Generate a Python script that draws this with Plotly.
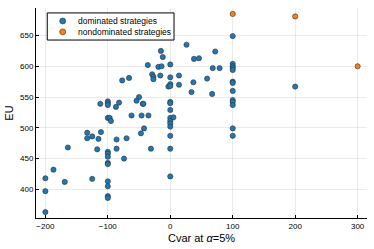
import plotly.graph_objects as go

dom_x = [-200, -200, -200, -187, -169, -164,
         -133, -133, -125, -125, -117, -115, -111, -112,
         -100, -100, -100, -100, -97, -95,
         -100, -100, -100, -100, -100, -100, -100, -100, -100,
         -87, -82, -86, -86, -77, -74, -70, -66, -62,
         -54, -50, -44, -43, -46, -35, -42, -47, -31,
         -36, -29, -27, -27, -19, -16, -15, -14, -12,
         -3, 0, 0, 0, 0, 0, 0, 0, 0, 5, 0, 0, 0, 0, 0, 0,
         14, 14, 26, 34, 37, 38, 46, 59, 67, 68, 72, 79,
         100, 100, 100, 100, 100, 100, 100, 100, 100, 100, 100, 100, 100,
         200]
dom_y = [363, 397, 418, 432, 412, 468,
         492, 483, 486, 417, 465, 482, 493, 539,
         543, 540, 537, 516, 516, 511,
         461, 458, 453, 443, 441, 413, 405, 389, 386,
         534, 541, 481, 466, 577, 450, 483, 581, 520,
         544, 550, 539, 539, 520, 520, 499, 491, 466,
         602, 587, 583, 579, 599, 585, 625, 600, 615,
         567, 603, 582, 571, 568, 542, 540, 529, 516, 517, 511, 507, 502, 487, 466, 421,
         585, 570, 635, 558, 574, 612, 613, 580, 555, 597, 624, 597,
         649, 604, 600, 597, 594, 575, 573, 560, 545, 542, 537, 499, 487,
         567]

nondom_x = [100, 200, 300]
nondom_y = [685, 681, 600]

series_names = ["dominated strategies", "nondominated strategies"]
series_colors = ["#1f77b4", "#ff7f0e"]

x_ticks = [-200, -100, 0, 100, 200, 300]
y_ticks = [400, 450, 500, 550, 600, 650]

FONT = "Liberation Sans, Arial, sans-serif"
EDGE = "#333333"

fig = go.Figure()
for (xs, ys), name, color in zip([(dom_x, dom_y), (nondom_x, nondom_y)], series_names, series_colors):
    fig.add_trace(go.Scatter(
        x=xs, y=ys, mode="markers", name=name, showlegend=False,
        marker=dict(color=color, size=5.2, line=dict(color=EDGE, width=0.6)),
    ))

# legend box drawn in paper coordinates (plot area: 331 x 213 px)
PW, PH = 331.0, 213.0
lx0, lx1 = 0.034, 0.417
ly0, ly1 = 0.8474, 0.9765
shapes = [dict(type="rect", xref="paper", yref="paper", x0=lx0, x1=lx1, y0=ly0, y1=ly1,
               fillcolor="white", line=dict(color="black", width=1), layer="above")]
annotations = []
row_y = [0.9380, 0.8864]
r = 3.0
mx = 0.0807
for name, color, yy in zip(series_names, series_colors, row_y):
    shapes.append(dict(type="circle", xref="paper", yref="paper",
                       x0=mx - r / PW, x1=mx + r / PW, y0=yy - r / PH, y1=yy + r / PH,
                       fillcolor=color, line=dict(color=EDGE, width=0.6), layer="above"))
    annotations.append(dict(text=name, xref="paper", yref="paper", x=0.123, y=yy,
                            xanchor="left", yanchor="middle", showarrow=False,
                            borderpad=0,
                            font=dict(size=8.5, family=FONT, color="black")))

axis_common = dict(
    showline=True, linecolor="black", linewidth=1, mirror=False,
    showgrid=True, gridcolor="rgba(0,0,0,0.08)", gridwidth=0.6,
    ticks="inside", ticklen=3, tickcolor="black", tickwidth=0.8,
    zeroline=False, tickfont=dict(size=8, color="black", family=FONT),
)

fig.update_layout(
    width=374, height=249,
    margin=dict(l=36, r=7, t=8, b=28),
    paper_bgcolor="white", plot_bgcolor="white",
    font=dict(family=FONT, color="black"),
    showlegend=False,
    shapes=shapes,
    annotations=annotations,
    xaxis=dict(
        range=[-215, 315], tickvals=x_ticks,
        title=dict(text="Cvar at <i>α</i>=5%", font=dict(size=11), standoff=4),
        **axis_common,
    ),
    yaxis=dict(
        range=[353.4, 694.7], tickvals=y_ticks,
        title=dict(text="EU", font=dict(size=11), standoff=4),
        **axis_common,
    ),
)

fig.write_html(
    "out.html",
    config={"displayModeBar": False},
    post_script="document.body.style.margin='0';document.body.style.overflow='hidden';",
)
